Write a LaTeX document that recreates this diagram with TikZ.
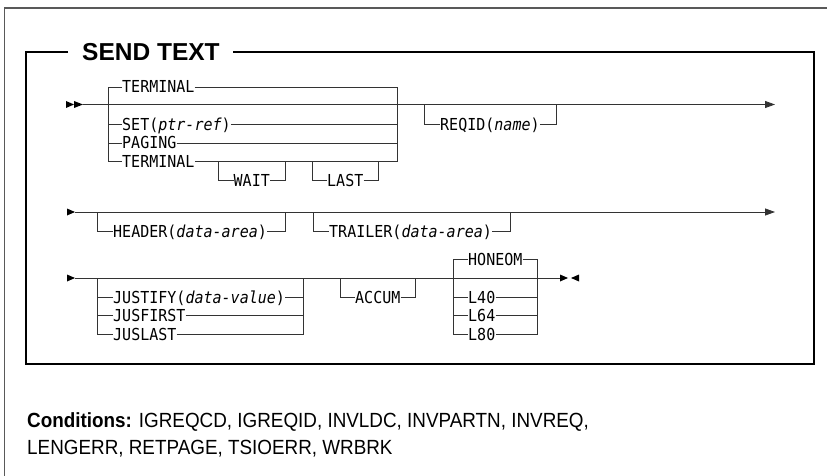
\documentclass[tikz,border=0pt]{standalone}
\usepackage{fontspec}
\setmainfont{Liberation Sans}
\newfontfamily\synfont[FakeStretch=0.91]{DejaVu Sans Mono}
\newfontfamily\condfont[FakeStretch=0.92]{Liberation Sans}
\usetikzlibrary{arrows.meta}
\tikzset{
  syn/.style={draw=black!80, line width=0.8pt},
  lbl/.style={font=\synfont\fontsize{16.5}{16.5}\selectfont, inner sep=0pt, text height=12pt, text depth=0pt, anchor=west},
  tip/.style={fill=black},
  boxline/.style={draw=black, line width=1.3pt},
  frameline/.style={draw=black!65, line width=1.2pt},
  cond/.style={font=\condfont\fontsize{20.5}{20.5}\selectfont, inner sep=0pt, anchor=base west}
}
\begin{document}
\begin{tikzpicture}[x=1pt,y=-1pt]
\useasboundingbox (0,0) rectangle (827,476);
% outer frame
\coordinate (fBL) at (4.5,476);
\coordinate (fTL) at (4.5,8);
\coordinate (fTR) at (827,8);
\draw[frameline] (fBL) -- (fTL) -- (fTR);
% inner box with title
\node[font=\bfseries\fontsize{24.5}{24.5}\selectfont, inner sep=0pt, text height=17.5pt, text depth=0pt, anchor=west] (title) at (82,52) {SEND TEXT};
\coordinate (tA) at (68,52);
\coordinate (tB) at (233,52);
\coordinate (bxTL) at (26,52);
\coordinate (bxBR) at (814,364);
\draw[boxline] (tA) -- (bxTL) -- (bxTL |- bxBR) -- (bxBR) -- (bxBR |- bxTL) -- (tB);

% ---------- Row 1 ----------
\coordinate (r1s) at (83,104.5);
\coordinate (r1e) at (775,104.5);
\fill[tip] (66,101) -- (74,104.5) -- (66,108) -- cycle;
\fill[tip] (74,101) -- (83,104.5) -- (74,108) -- cycle;
\draw[syn, -{Triangle[length=10pt,width=7pt]}] (r1s) -- (r1e);

\coordinate (g1L) at (108,104.5);
\coordinate (g1R) at (397,104.5);
\node[lbl] (t1) at (122,87) {TERMINAL};
\node[lbl] (set) at (122,124.5) {SET(\textit{ptr-ref})};
\node[lbl] (pag) at (122,143) {PAGING};
\node[lbl] (t2) at (122,161.5) {TERMINAL};
\draw[syn] (t1.west) -| (g1L |- t2.west) -- (t2.west);
\draw[syn] (set.west) -- (set.west -| g1L);
\draw[syn] (pag.west) -- (pag.west -| g1L);
\draw[syn] (t1.east) -| (g1R |- t2.east) -- (t2.east);
\draw[syn] (set.east) -- (set.east -| g1R);
\draw[syn] (pag.east) -- (pag.east -| g1R);

\coordinate (w1) at (218,161.5);
\coordinate (w2) at (285,161.5);
\node[lbl] (wait) at (233.5,180) {WAIT};
\draw[syn] (w1) |- (wait.west);
\draw[syn] (wait.east) -| (w2);
\coordinate (l1) at (312,161.5);
\coordinate (l2) at (378,161.5);
\node[lbl] (last) at (327,180) {LAST};
\draw[syn] (l1) |- (last.west);
\draw[syn] (last.east) -| (l2);

\coordinate (q1) at (424,104.5);
\coordinate (q2) at (556,104.5);
\node[lbl] (reqid) at (440,124.5) {REQID(\textit{name})};
\draw[syn] (q1) |- (reqid.west);
\draw[syn] (reqid.east) -| (q2);

% ---------- Row 2 ----------
\coordinate (r2s) at (75,212);
\coordinate (r2e) at (775,212);
\fill[tip] (67,208.5) -- (75,212) -- (67,215.5) -- cycle;
\draw[syn, -{Triangle[length=10pt,width=7pt]}] (r2s) -- (r2e);

\coordinate (h1) at (97,212);
\coordinate (h2) at (285,212);
\node[lbl] (header) at (113,231) {HEADER(\textit{data-area})};
\draw[syn] (h1) |- (header.west);
\draw[syn] (header.east) -| (h2);
\coordinate (tr1) at (313,212);
\coordinate (tr2) at (510,212);
\node[lbl] (trailer) at (329,231) {TRAILER(\textit{data-area})};
\draw[syn] (tr1) |- (trailer.west);
\draw[syn] (trailer.east) -| (tr2);

% ---------- Row 3 ----------
\coordinate (r3s) at (75,278);
\coordinate (r3e) at (560,278);
\fill[tip] (67,274.5) -- (75,278) -- (67,281.5) -- cycle;
\draw[syn] (r3s) -- (r3e);
\fill[tip] (560,274.5) -- (568,278) -- (560,281.5) -- cycle;
\fill[tip] (579,274.5) -- (571,278) -- (579,281.5) -- cycle;

\coordinate (j1) at (97,278);
\coordinate (j2) at (303,278);
\node[lbl] (justify) at (113,297) {JUSTIFY(\textit{data-value})};
\node[lbl] (jusfirst) at (113,315.5) {JUSFIRST};
\node[lbl] (juslast) at (113,334) {JUSLAST};
\draw[syn] (j1) |- (juslast.west);
\draw[syn] (justify.west) -- (justify.west -| j1);
\draw[syn] (jusfirst.west) -- (jusfirst.west -| j1);
\draw[syn] (juslast.east) -| (j2);
\draw[syn] (justify.east) -- (justify.east -| j2);
\draw[syn] (jusfirst.east) -- (jusfirst.east -| j2);

\coordinate (a1) at (340,278);
\coordinate (a2) at (415,278);
\node[lbl] (accum) at (355,297) {ACCUM};
\draw[syn] (a1) |- (accum.west);
\draw[syn] (accum.east) -| (a2);

\coordinate (hL) at (453,278);
\coordinate (hR) at (537,278);
\node[lbl] (honeom) at (468,259) {HONEOM};
\node[lbl] (l40) at (468,297) {L40};
\node[lbl] (l64) at (468,315.5) {L64};
\node[lbl] (l80) at (468,334) {L80};
\draw[syn] (honeom.west) -| (hL |- l80.west) -- (l80.west);
\draw[syn] (l40.west) -- (l40.west -| hL);
\draw[syn] (l64.west) -- (l64.west -| hL);
\draw[syn] (honeom.east) -| (hR |- l80.east) -- (l80.east);
\draw[syn] (l40.east) -- (l40.east -| hR);
\draw[syn] (l64.east) -- (l64.east -| hR);

% ---------- Conditions ----------
\node[cond] (cond1) at (27,427) {\textbf{Conditions:} IGREQCD, IGREQID, INVLDC, INVPARTN, INVREQ,};
\node[cond] (cond2) at (27,454) {LENGERR, RETPAGE, TSIOERR, WRBRK};
\end{tikzpicture}
\end{document}
